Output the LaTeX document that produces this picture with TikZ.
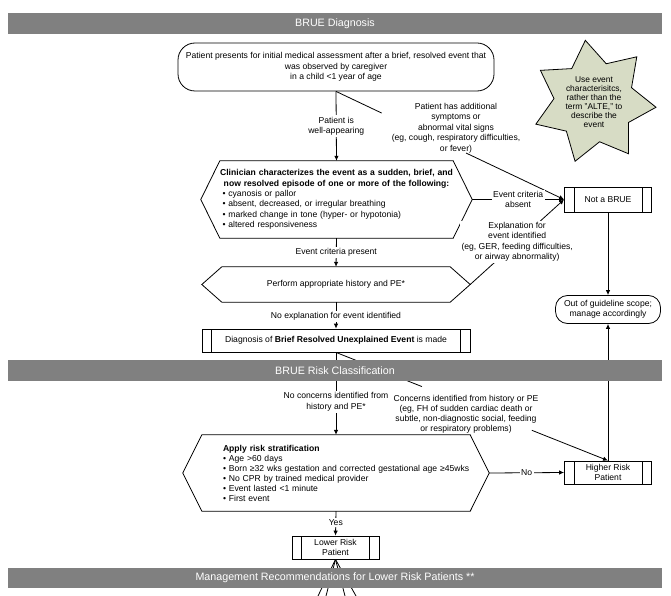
\documentclass[tikz,border=0pt]{standalone}
\usepackage{fontspec}
\setmainfont{Liberation Sans}
\usetikzlibrary{shapes.geometric, arrows.meta, calc}
\definecolor{bannergray}{HTML}{808080}
\definecolor{starsage}{HTML}{D7DCC5}

% outline of a six-sided box round a node
\newcommand{\hexframe}[2]{%
  \draw[line width=0.8pt] (#1.west) -- ([xshift=#2]#1.north west) -- ([xshift=-#2]#1.north east)
    -- (#1.east) -- ([xshift=-#2]#1.south east) -- ([xshift=#2]#1.south west) -- cycle;}

\begin{document}
\begin{tikzpicture}[x=1pt, y=-1pt,
  every node/.style={font=\fontsize{8.6}{10.5}\selectfont},
  stadium/.style={rectangle, draw, line width=0.8pt, align=center, inner sep=1pt},
  hexnode/.style={rectangle, inner sep=0pt},
  procbox/.style={rectangle, draw, line width=0.8pt, align=center, inner sep=1pt,
    minimum width=87pt, minimum height=23pt,
    path picture={
      \draw[line width=0.8pt] ([xshift=9.5pt]path picture bounding box.north west) -- ([xshift=9.5pt]path picture bounding box.south west);
      \draw[line width=0.8pt] ([xshift=-9.5pt]path picture bounding box.north east) -- ([xshift=-9.5pt]path picture bounding box.south east);}},
  lbl/.style={fill=white, align=center, inner sep=1.5pt},
  banner/.style={fill=bannergray, text=white, minimum width=654pt, minimum height=21pt,
    inner sep=0pt, font=\fontsize{10.7}{12}\selectfont},
  arrow/.style={-{Latex[length=5pt,width=4.5pt]}, line width=0.8pt},
  link/.style={line width=0.8pt}
]
  \useasboundingbox (0,0) rectangle (671,596);

  % BRUE diagnosis
  \node[stadium, rounded corners=17pt, minimum width=316pt, minimum height=48pt] (presents) at (336,67) {
    Patient presents for initial medical assessment after a brief, resolved event that\\
    was observed by caregiver\\
    in a child <1 year of age
  };
  \node[star, star points=7, star point ratio=1.55, draw, fill=starsage, line width=0.8pt,
    shape border rotate=8, minimum size=120pt, inner sep=0pt, align=center,
    font=\fontsize{8.4}{9}\selectfont] (alte) at (594,102) {
    Use event\\ characterisitcs,\\ rather than the\\ term "ALTE," to\\ describe the\\ event
  };
  \node[hexnode, minimum width=271pt, minimum height=77pt, text width=240pt, align=left,
    font=\fontsize{8.6}{10.4}\selectfont] (clin) at (336.5,199.5) {
    {\centering\bfseries Clinician characterizes the event as a sudden, brief, and\\
    now resolved episode of one or more of the following:\par}
    \leftskip=6pt
    \textbullet\ cyanosis or pallor\\
    \textbullet\ absent, decreased, or irregular breathing\\
    \textbullet\ marked change in tone (hyper- or hypotonia)\\
    \textbullet\ altered responsiveness\par
  };
  \node[hexnode, minimum width=268pt, minimum height=35pt] (perform) at (336,284.5) {Perform appropriate history and PE*};
  \node[procbox, minimum width=268pt] (diag) at (336,340.5) {Diagnosis of \textbf{Brief Resolved Unexplained Event} is made};
  \node[procbox, minimum height=25pt] (notbrue) at (608,199.5) {Not a BRUE};
  \node[stadium, rounded corners=12pt, minimum width=105pt, minimum height=28pt] (scope) at (608,309.5) {
    Out of guideline scope;\\ manage accordingly
  };

  % BRUE risk classification
  \node[hexnode, minimum width=306pt, minimum height=76pt, text width=276pt, align=left,
    font=\fontsize{8.6}{10}\selectfont] (strat) at (336,473) {
    \leftskip=25pt
    \textbf{Apply risk stratification}\\
    \textbullet\ Age >60 days\\
    \textbullet\ Born ≥32 wks gestation and corrected gestational age ≥45wks\\
    \textbullet\ No CPR by trained medical provider\\
    \textbullet\ Event lasted <1 minute\\
    \textbullet\ First event\par
  };
  \node[procbox] (higher) at (608,472.5) {Higher Risk\\ Patient};
  \node[procbox] (lower) at (335.5,547.5) {Lower Risk\\ Patient};

  \hexframe{clin}{19pt}
  \hexframe{perform}{20pt}
  \hexframe{strat}{19pt}

  \draw[arrow] (presents.south) -- node[lbl] {Patient is\\ well-appearing} (clin.north);
  \draw[link] (presents.south) -- ($(presents.south)!0.2!(notbrue.west)$);
  \draw[arrow] ($(presents.south)!0.57!(notbrue.west)$) -- (notbrue.west);
  \node[align=center] (addsym) at (456,128) {
    Patient has additional\\ symptoms or\\ abnormal vital signs\\
    (eg, cough, respiratory difficulties,\\ or fever)
  };
  \draw[arrow] (clin.east) -- node[lbl] {Event criteria\\ absent} (notbrue.west);
  \draw[arrow] (clin.south) -- node[lbl] {Event criteria present} (perform.north);
  \draw[arrow] (perform.east) -- node[lbl] {Explanation for\\ event identified\\
    (eg, GER, feeding difficulties,\\ or airway abnormality)} (notbrue.west);
  \draw[arrow] (perform.south) -- node[lbl, pos=0.55] {No explanation for event identified} (diag.north);
  \draw[arrow] (notbrue.south) -- (scope.north);
  \draw[arrow] (higher.north) -- (scope.south);
  \draw[arrow] (diag.south) -- node[lbl, pos=0.6] {No concerns identified from\\ history and PE*} (strat.north);
  \draw[link] (diag.south) -- ($(diag.south)!0.316!(higher.north)$);
  \draw[arrow] ($(diag.south)!0.72!(higher.north)$) -- (higher.north);
  \node[align=center, font=\fontsize{8.6}{10}\selectfont] (concerns) at (466,414) {
    Concerns identified from history or PE\\
    (eg, FH of sudden cardiac death or\\ subtle, non-diagnostic social, feeding\\
    or respiratory problems)
  };
  \draw[arrow] (strat.east) -- node[lbl] {No} (higher.west);
  \draw[arrow] (strat.south) -- node[lbl, pos=0.45] {Yes} (lower.north);

  % management, cut off at the page edge
  \foreach \x [count=\i] in {318,326,345,356}
    \coordinate (fan\i) at (\x,596);
  \foreach \i in {1,...,4}
    \draw[link] (lower.south) -- (fan\i);

  \node[banner] (bdiag) at (335,23.5) {BRUE Diagnosis};
  \node[banner] (brisk) at (335,370.5) {BRUE Risk Classification};
  \node[banner, minimum height=20pt] (bmgmt) at (335,578) {Management Recommendations for Lower Risk Patients **};
\end{tikzpicture}
\end{document}
